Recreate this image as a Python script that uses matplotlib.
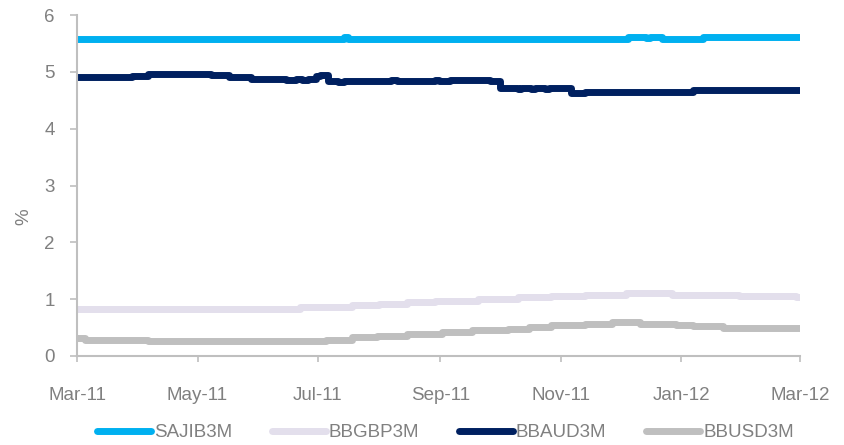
import pandas as pd
import matplotlib.pyplot as plt
import matplotlib.dates as mdates

# 3M interbank rates, change points (value holds until the next date)
sajib_dates = ["2011-03-01", "2011-07-14", "2011-07-16", "2011-12-05", "2011-12-14",
               "2011-12-16", "2011-12-22", "2012-01-12", "2012-03-01"]
sajib_vals = [5.58, 5.61, 5.58, 5.62, 5.59, 5.62, 5.58, 5.62, 5.62]

gbp_dates = ["2011-03-01", "2011-06-22", "2011-07-18", "2011-08-01", "2011-08-15",
             "2011-08-29", "2011-09-20", "2011-10-10", "2011-10-27", "2011-11-13",
             "2011-12-04", "2011-12-27", "2012-01-30", "2012-02-28", "2012-03-01"]
gbp_vals = [0.83, 0.86, 0.89, 0.92, 0.95, 0.97, 1.00, 1.03, 1.05, 1.08,
            1.10, 1.07, 1.05, 1.03, 1.03]

aud_dates = ["2011-03-01", "2011-03-29", "2011-04-06", "2011-05-08", "2011-05-17",
             "2011-05-28", "2011-06-15", "2011-06-20", "2011-06-23", "2011-06-26",
             "2011-06-30", "2011-07-02", "2011-07-06", "2011-07-11", "2011-07-14",
             "2011-08-07", "2011-08-10", "2011-08-29", "2011-08-31", "2011-09-06",
             "2011-09-26", "2011-10-01", "2011-10-10", "2011-10-12", "2011-10-17",
             "2011-10-19", "2011-10-24", "2011-10-26", "2011-11-06", "2011-11-13",
             "2012-01-07", "2012-03-01"]
aud_vals = [4.91, 4.93, 4.96, 4.94, 4.91, 4.88, 4.85, 4.87, 4.85, 4.88,
            4.92, 4.95, 4.84, 4.82, 4.84, 4.86, 4.83, 4.86, 4.83, 4.85,
            4.84, 4.72, 4.69, 4.72, 4.69, 4.72, 4.69, 4.72, 4.63, 4.65,
            4.68, 4.68]

usd_dates = ["2011-03-01", "2011-03-05", "2011-04-06", "2011-07-05", "2011-07-18",
             "2011-07-31", "2011-08-15", "2011-09-02", "2011-09-17", "2011-10-05",
             "2011-10-16", "2011-10-27", "2011-11-13", "2011-11-27", "2011-12-11",
             "2011-12-29", "2012-01-07", "2012-01-22", "2012-03-01"]
usd_vals = [0.32, 0.29, 0.26, 0.29, 0.33, 0.36, 0.39, 0.42, 0.45, 0.48,
            0.51, 0.54, 0.57, 0.60, 0.57, 0.54, 0.52, 0.49, 0.49]

series = [
    ("SAJIB3M", sajib_dates, sajib_vals, "#00B0F0"),
    ("BBGBP3M", gbp_dates, gbp_vals, "#E3DFEC"),
    ("BBAUD3M", aud_dates, aud_vals, "#002060"),
    ("BBUSD3M", usd_dates, usd_vals, "#BFBFBF"),
]

grey = "#808080"
axis_grey = "#BFBFBF"
plt.rcParams["font.family"] = ["Liberation Sans", "DejaVu Sans"]

fig = plt.figure(figsize=(8.45, 4.45), dpi=100)
ax = fig.add_axes([77 / 845, 1 - 356 / 445, 723 / 845, 341 / 445])

for name, d, v, c in series:
    ax.plot(pd.to_datetime(d), v, color=c, lw=5, label=name, drawstyle="steps-post",
            solid_capstyle="round", solid_joinstyle="round")

ax.set_xlim(pd.Timestamp("2011-03-01"), pd.Timestamp("2012-03-01"))
ax.set_ylim(0, 6)
ax.set_yticks(range(0, 7))
ax.xaxis.set_major_locator(mdates.MonthLocator(bymonth=[1, 3, 5, 7, 9, 11]))
ax.xaxis.set_major_formatter(mdates.DateFormatter("%b-%y"))

for s in ["top", "right"]:
    ax.spines[s].set_visible(False)
for s in ["left", "bottom"]:
    ax.spines[s].set_color(axis_grey)
    ax.spines[s].set_linewidth(1.5)

ax.tick_params(axis="y", colors=axis_grey, labelcolor=grey, labelsize=13.5,
               length=5, width=1.2, pad=11)
ax.tick_params(axis="x", colors=axis_grey, labelcolor=grey, labelsize=13.5,
               length=4, width=1.2, pad=18)

ax.set_ylabel("%", color=grey, fontsize=13.5)
ax.yaxis.set_label_coords(-0.062, 0.41)

fig.legend(loc="center", bbox_to_anchor=(0.527, 0.028), ncol=4, frameon=False,
           fontsize=13.5, labelcolor=grey, handlelength=2.9, handletextpad=0.15,
           columnspacing=2.1)

fig.savefig("out.png", dpi=100)
